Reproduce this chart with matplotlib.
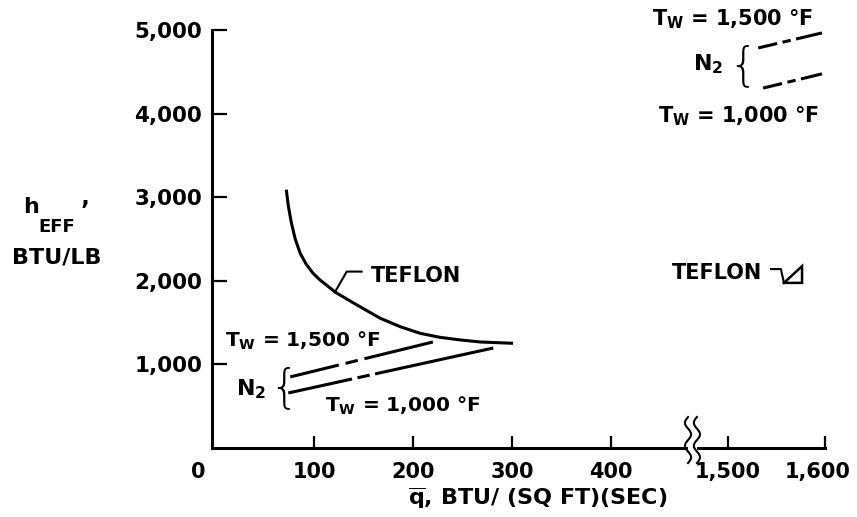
import numpy as np
import matplotlib
matplotlib.use("Agg")
import matplotlib.pyplot as plt
import matplotlib.transforms as mtransforms

plt.rcParams['font.family'] = ['DejaVu Sans']
plt.rcParams['font.weight'] = 'bold'
plt.rcParams['mathtext.fontset'] = 'dejavusans'
plt.rcParams['lines.scale_dashes'] = False

# teflon curve
teflon_q = [72, 74, 77, 81, 86, 92, 99, 106, 122, 139, 167, 187, 207, 227, 248, 268, 301]
teflon_h = [3090, 2900, 2700, 2500, 2330, 2200, 2090, 2010, 1860, 1740, 1551, 1451, 1372, 1324,
            1292, 1268, 1252]

# nitrogen lines (start, end)
n2_1500_q = [76, 220]
n2_1500_h = [850, 1268]
n2_1000_q = [74, 281]
n2_1000_h = [658, 1196]

x_ticks = [0, 100, 200, 300, 400, 1500, 1600]
x_labels = ['0', '100', '200', '300', '400', '1,500', '1,600']
y_ticks = [1000, 2000, 3000, 4000, 5000]
y_labels = ['1,000', '2,000', '3,000', '4,000', '5,000']

# broken x axis: 0-478 linear, gap squeezed, 1500-1600 after it
def fwd(x):
    x = np.asarray(x, float)
    return np.where(x < 478, x,
                    np.where(x < 1500, 478 + (x - 478) * 40 / 1022,
                             518 + (x - 1500) * 0.98))

def inv(u):
    u = np.asarray(u, float)
    return np.where(u < 478, u,
                    np.where(u < 518, 478 + (u - 478) * 1022 / 40,
                             1500 + (u - 518) / 0.98))

fig = plt.figure(figsize=(8.57, 5.17), dpi=100)
ax = fig.add_axes([0.2474, 0.1335, 0.7153, 0.8085])
ax.set_xscale('function', functions=(fwd, inv))
ax.set_xlim(-3, 1600)
ax.set_ylim(0, 5000)

lw = 2.2
ax.plot(teflon_q, teflon_h, color='black', lw=lw, solid_capstyle='butt', solid_joinstyle='round')
ax.plot(n2_1500_q, n2_1500_h, color='black', lw=lw, dashes=(36, 5, 9, 5, 200))
ax.plot(n2_1000_q, n2_1000_h, color='black', lw=lw, dashes=(47, 4, 9, 4, 200))

for s in ['top', 'right']:
    ax.spines[s].set_visible(False)
for s in ['left', 'bottom']:
    ax.spines[s].set_linewidth(2.2)

ax.set_xticks(x_ticks)
ax.set_xticklabels(x_labels)
ax.set_yticks(y_ticks)
ax.set_yticklabels(y_labels)
ax.minorticks_off()
ax.tick_params(axis='x', direction='in', length=9, width=1.6, pad=10, labelsize=15)
ax.tick_params(axis='y', direction='in', length=11, width=1.6, pad=7, labelsize=15.5)
ax.xaxis.get_major_ticks()[0].tick1line.set_visible(False)
xlabs = ax.get_xticklabels()
for lab, dx in [(xlabs[0], -0.17), (xlabs[-1], -0.07)]:
    lab.set_transform(lab.get_transform() + mtransforms.ScaledTranslation(dx, 0, fig.dpi_scale_trans))

# axis labels
fig.text(0.027, 0.588, 'h', fontsize=16)
fig.text(0.045, 0.552, 'EFF', fontsize=13)
fig.text(0.094, 0.578, '\u2019', fontsize=17)
fig.text(0.014, 0.491, 'BTU/LB', fontsize=16)
fig.text(0.627, 0.023, '$\\overline{\\mathbf{q}}$, BTU/ (SQ FT)(SEC)', fontsize=16, ha='center')

tw15 = 'T$_\\mathbf{W}$ = 1,500 °F'
tw10 = 'T$_\\mathbf{W}$ = 1,000 °F'
n2 = 'N$_\\mathbf{2}$'

# labels inside plot (left part)
ax.text(10, 1210, tw15, fontsize=14.5, va='baseline')
ax.text(111, 431, tw10, fontsize=14.5, va='baseline')
ax.text(21, 634, n2, fontsize=16, va='baseline')
ax.text(69, 718, '{', fontsize=33, fontweight='light', va='center', ha='center')
ax.text(157, 1986, 'TEFLON', fontsize=15, va='baseline')
ax.plot([121, 133, 148], [1862, 2110, 2110], color='black', lw=1.5)

# break marks on the x axis
t = np.linspace(0, 1, 60)
for xc in [0.7765, 0.791]:
    ax.plot(xc + 0.005 * np.sin(t * 2 * np.pi * 2), -0.036 + 0.11 * t,
            color='black', lw=1.5, transform=ax.transAxes, clip_on=False, zorder=5)
ax.plot([0.7795, 0.788], [0, 0], color='white', lw=3, transform=ax.transAxes,
        clip_on=False, zorder=4)

# key in the upper right
ta = ax.transAxes
ax.text(0.718, 1.012, tw15, fontsize=15, va='baseline', transform=ta)
ax.text(0.727, 0.780, tw10, fontsize=15, va='baseline', transform=ta)
ax.text(0.785, 0.904, n2, fontsize=16, va='baseline', transform=ta)
ax.text(0.866, 0.914, '{', fontsize=33, fontweight='light', va='center', ha='center', transform=ta)
ax.plot([0.891, 0.995], [0.957, 0.993], color='black', lw=lw, dashes=(14, 4, 6, 4, 200),
        transform=ta, clip_on=False)
ax.plot([0.899, 0.995], [0.861, 0.895], color='black', lw=lw, dashes=(14, 4, 6, 4, 200),
        transform=ta, clip_on=False)

# teflon symbol key
ax.text(0.750, 0.404, 'TEFLON', fontsize=15, va='baseline', transform=ta)
ax.plot([0.912, 0.928, 0.933], [0.428, 0.428, 0.395], color='black', lw=1.5, transform=ta)
ax.plot([0.933, 0.9625, 0.9625, 0.933], [0.395, 0.435, 0.395, 0.395], color='black',
        lw=1.8, transform=ta, solid_joinstyle='miter')

fig.savefig('out.png', dpi=100)
